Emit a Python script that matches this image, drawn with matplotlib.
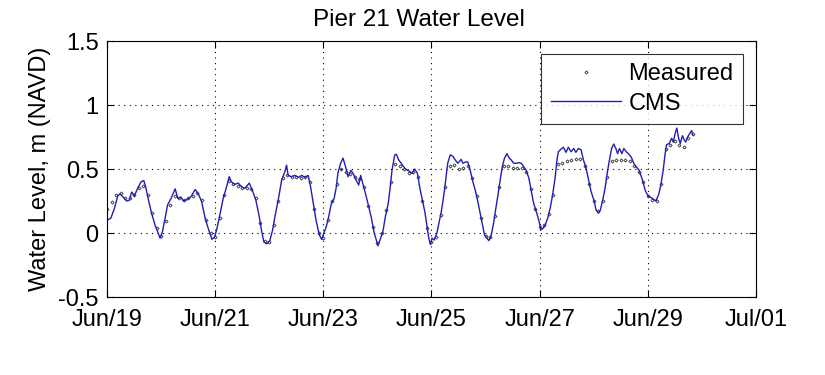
"""Pier 21 water level, measured vs CMS."""
# %% Imports
import numpy as np
import pandas as pd
import matplotlib
matplotlib.use("Agg")
from matplotlib import pyplot as plt
import matplotlib.dates as mdates

plt.rcParams["font.family"] = ["Liberation Sans", "DejaVu Sans"]

# %% Data
start = pd.Timestamp("2011-06-19")
x_end = pd.Timestamp("2011-07-01")

# measured gauge, every 2 h from Jun/19 00:00
meas_hours = np.arange(0, 261, 2)
meas_val = [
    0.19, 0.24, 0.30, 0.31, 0.27, 0.27, 0.30, 0.35, 0.37, 0.30, 0.16, 0.04,
    -0.02, 0.09, 0.22, 0.29, 0.27, 0.26, 0.27, 0.29, 0.31, 0.26, 0.10, 0.00,
    -0.03, 0.12, 0.30, 0.41, 0.38, 0.37, 0.35, 0.35, 0.34, 0.27, 0.08, -0.06,
    -0.07, 0.06, 0.25, 0.43, 0.45, 0.44, 0.44, 0.43, 0.44, 0.40, 0.19, 0.00,
    -0.04, 0.10, 0.25, 0.38, 0.50, 0.48, 0.46, 0.44, 0.42, 0.36, 0.21, 0.05,
    -0.08, 0.00, 0.18, 0.40, 0.54, 0.52, 0.50, 0.47, 0.48, 0.44, 0.25, 0.04,
    -0.07, -0.03, 0.14, 0.36, 0.52, 0.53, 0.50, 0.51, 0.52, 0.43, 0.29, 0.12,
    -0.02, -0.03, 0.13, 0.36, 0.52, 0.52, 0.51, 0.51, 0.51, 0.48, 0.34, 0.19,
    0.05, 0.06, 0.15, 0.30, 0.54, 0.55, 0.56, 0.57, 0.58, 0.58, 0.52, 0.38,
    0.25, 0.17, 0.25, 0.44, 0.56, 0.57, 0.57, 0.57, 0.56, 0.52, 0.48, 0.40,
    0.29, 0.26, 0.25, 0.38, 0.66, 0.69, 0.72, 0.69, 0.67, 0.74, 0.77,
]

# CMS model, days since Jun/19
cms_day = [
    0.0, 0.07, 0.136, 0.198, 0.24, 0.30, 0.364, 0.41, 0.457, 0.506, 0.568, 0.63,
    0.68, 0.716, 0.765, 0.827, 0.89, 0.938, 0.98, 1.025, 1.074, 1.12, 1.185,
    1.26, 1.31, 1.37, 1.41, 1.475, 1.555, 1.63, 1.69, 1.75, 1.815, 1.88, 1.94,
    1.99, 2.025, 2.086, 2.148, 2.21, 2.26, 2.30, 2.36, 2.426, 2.49, 2.55, 2.63,
    2.69, 2.75, 2.81, 2.857, 2.90, 2.95, 3.01, 3.06, 3.11, 3.167, 3.23, 3.29,
    3.32, 3.35, 3.41, 3.475, 3.54, 3.60, 3.66, 3.72, 3.765, 3.815, 3.865, 3.925,
    3.97, 4.01, 4.055, 4.10, 4.148, 4.20, 4.24, 4.27, 4.32, 4.364, 4.41, 4.457,
    4.51, 4.55, 4.61, 4.654, 4.69, 4.716, 4.74, 4.796, 4.84, 4.89, 4.94, 4.98,
    5.01, 5.06, 5.105, 5.148, 5.20, 5.23, 5.27, 5.32, 5.35, 5.395, 5.44, 5.506,
    5.556, 5.60, 5.64, 5.69, 5.74, 5.78, 5.83, 5.877, 5.926, 5.95, 5.98, 6.01,
    6.05, 6.10, 6.136, 6.18, 6.21, 6.24, 6.27, 6.30, 6.346, 6.395, 6.44, 6.487,
    6.55, 6.58, 6.63, 6.67, 6.716, 6.765, 6.815, 6.857, 6.90, 6.95, 6.98, 7.025,
    7.06, 7.105, 7.148, 7.185, 7.23, 7.27, 7.31, 7.35, 7.395, 7.43, 7.475, 7.52,
    7.57, 7.62, 7.66, 7.70, 7.75, 7.80, 7.846, 7.89, 7.94, 7.99, 8.025, 8.06,
    8.10, 8.148, 8.20, 8.24, 8.284, 8.32, 8.346, 8.395, 8.44, 8.487, 8.53, 8.58,
    8.63, 8.67, 8.716, 8.765, 8.81, 8.858, 8.90, 8.95, 9.0, 9.043, 9.086, 9.123,
    9.167, 9.21, 9.247, 9.29, 9.33, 9.37, 9.41, 9.44, 9.475, 9.52, 9.556, 9.60,
    9.64, 9.69, 9.74, 9.78, 9.84, 9.90, 9.95, 9.99, 10.04, 10.086, 10.148, 10.2,
    10.24, 10.284, 10.32, 10.346, 10.395, 10.44, 10.47, 10.506, 10.535, 10.57,
    10.60, 10.64, 10.67, 10.70, 10.735, 10.78, 10.81, 10.83,
]
cms_val = [
    0.10, 0.115, 0.19, 0.29, 0.305, 0.28, 0.25, 0.255, 0.32, 0.29, 0.35, 0.40,
    0.41, 0.36, 0.26, 0.15, 0.06, 0.01, -0.04, 0.01, 0.115, 0.22, 0.27,
    0.345, 0.27, 0.28, 0.25, 0.26, 0.285, 0.34, 0.305, 0.245, 0.115, 0.025, -0.05,
    -0.03, 0.02, 0.14, 0.27, 0.36, 0.44, 0.40, 0.38, 0.39, 0.36, 0.35, 0.39,
    0.33, 0.26, 0.14, 0.02, -0.07, -0.085, -0.06, 0.02, 0.14, 0.26, 0.415, 0.48,
    0.53, 0.45, 0.44, 0.45, 0.435, 0.45, 0.435, 0.45, 0.36, 0.23, 0.10, -0.015,
    -0.05, 0.0, 0.05, 0.13, 0.23, 0.27, 0.36, 0.47, 0.545, 0.585, 0.52, 0.44,
    0.49, 0.465, 0.41, 0.375, 0.45, 0.41, 0.37, 0.28, 0.205, 0.115, 0.0, -0.055,
    -0.10, -0.04, 0.02, 0.13, 0.23, 0.335, 0.49, 0.61, 0.615, 0.57, 0.545, 0.505,
    0.49, 0.48, 0.465, 0.50, 0.465, 0.36, 0.26, 0.165, 0.025, -0.04, -0.09, -0.04,
    -0.055, 0.0, 0.075, 0.165, 0.245, 0.335, 0.44, 0.545, 0.61, 0.60, 0.57, 0.545,
    0.575, 0.545, 0.555, 0.555, 0.49, 0.40, 0.325, 0.245, 0.155, 0.05, -0.015, -0.04,
    -0.06, -0.015, 0.075, 0.18, 0.30, 0.415, 0.52, 0.585, 0.62, 0.59, 0.57, 0.545,
    0.545, 0.55, 0.545, 0.52, 0.49, 0.43, 0.325, 0.23, 0.165, 0.09, 0.025, 0.035,
    0.06, 0.115, 0.205, 0.30, 0.425, 0.57, 0.635, 0.655, 0.67, 0.63, 0.67, 0.635,
    0.66, 0.63, 0.66, 0.65, 0.57, 0.505, 0.425, 0.325, 0.26, 0.18, 0.155, 0.18,
    0.26, 0.35, 0.465, 0.57, 0.66, 0.695, 0.66, 0.62, 0.66, 0.62, 0.66, 0.635,
    0.62, 0.595, 0.545, 0.52, 0.49, 0.415, 0.335, 0.30, 0.28, 0.27, 0.25, 0.30,
    0.375, 0.49, 0.62, 0.69, 0.70, 0.74, 0.71, 0.78, 0.82, 0.74,
    0.70, 0.76, 0.73, 0.71, 0.75, 0.78, 0.80, 0.765,
]

meas_t = start + pd.to_timedelta(meas_hours, unit="h")
cms_t = start + pd.to_timedelta(np.array(cms_day), unit="D")

# %% Plot
fig = plt.figure(figsize=(8.25, 3.75), dpi=100)
ax = fig.add_axes([107 / 825, 78 / 375, 649 / 825, 256 / 375])

ax.plot(meas_t, meas_val, linestyle="None", marker="D", markersize=1.6,
        markerfacecolor="none", markeredgecolor="#333333",
        markeredgewidth=0.6, label="Measured")
ax.plot(cms_t, cms_val, color="#1f1fb4", linewidth=1.0, label="CMS")

ax.set_xlim(start, x_end)
ax.set_ylim(-0.5, 1.5)
ax.set_yticks([-0.5, 0, 0.5, 1, 1.5])
ax.set_yticklabels(["-0.5", "0", "0.5", "1", "1.5"])
ax.xaxis.set_major_locator(mdates.DayLocator(interval=2))
ax.xaxis.set_major_formatter(mdates.DateFormatter("%b/%d"))

ax.grid(True, color="black", linestyle=(0, (1, 4)), linewidth=0.8)
ax.tick_params(direction="in", length=5, top=True, right=True,
               labelsize=17)
ax.tick_params(axis="x", pad=9)
ax.tick_params(axis="y", pad=6)
for s in ax.spines.values():
    s.set_linewidth(0.8)

ax.set_title("Pier 21 Water Level", fontsize=17.5, pad=11, x=0.48)
ax.set_ylabel("Water Level, m (NAVD)", fontsize=17, labelpad=5)

leg = ax.legend(loc="upper right", fontsize=17, frameon=True, fancybox=False,
                edgecolor="black", borderaxespad=0.55, handlelength=3.0,
                handletextpad=0.3, borderpad=0.4, labelspacing=0.3,
                markerscale=1.0)
leg.get_frame().set_linewidth(0.8)

fig.savefig("out.png", dpi=100)
